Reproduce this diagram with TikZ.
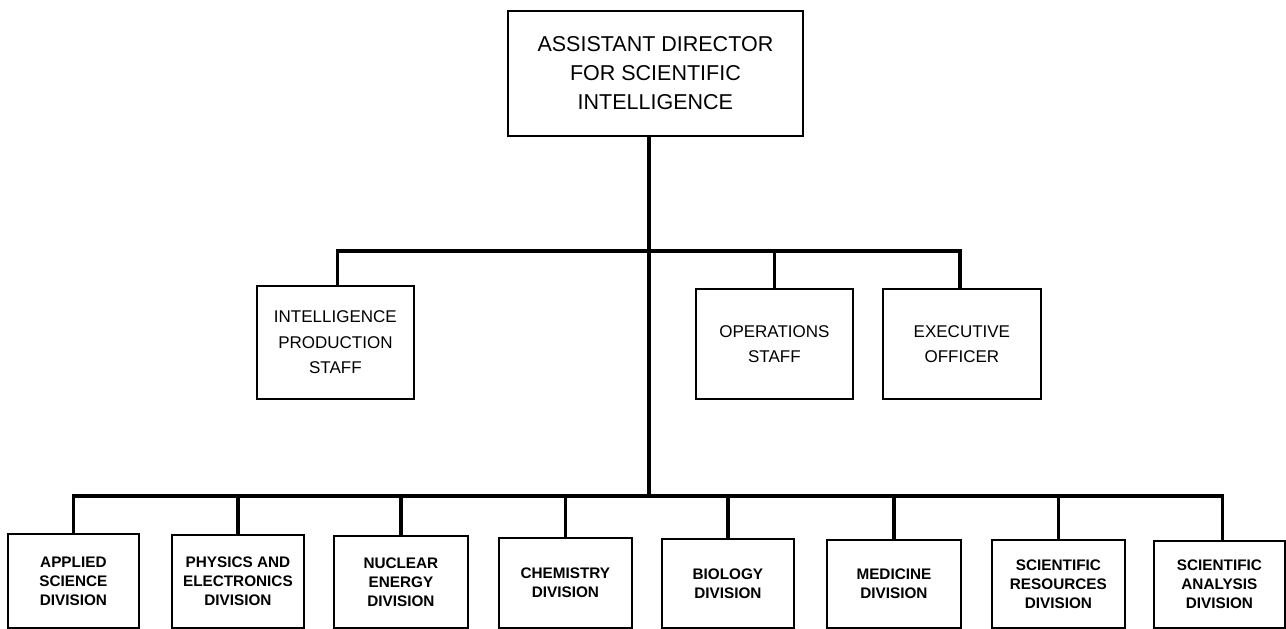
\documentclass[tikz,border=0pt]{standalone}
\usepackage{fontspec}
\setmainfont{Liberation Sans}
\begin{document}
\begin{tikzpicture}[x=1pt,y=-1pt,
  box/.style={draw=black,line width=1.8pt,fill=white,inner sep=0pt,align=center,anchor=north west},
  topbox/.style={box,font=\fontsize{21.5}{29}\selectfont},
  midbox/.style={box,font=\fontsize{17}{25.5}\selectfont},
  divbox/.style={box,font=\bfseries\fontsize{15.3}{19}\selectfont},
  link/.style={line width=3.6pt,line cap=butt}]
\useasboundingbox (0,0) rectangle (1286,629);
% top
\node[topbox,minimum width=295pt,minimum height=125pt] (top) at (507,10)
  {ASSISTANT DIRECTOR\\FOR SCIENTIFIC\\INTELLIGENCE};
% staff row
\node[midbox,minimum width=157pt,minimum height=113pt] (ips) at (256,285)
  {INTELLIGENCE\\PRODUCTION\\STAFF};
\node[midbox,minimum width=157pt,minimum height=110pt] (ops) at (695,288)
  {OPERATIONS\\STAFF};
\node[midbox,minimum width=158pt,minimum height=110pt] (exe) at (882,288)
  {EXECUTIVE\\OFFICER};
% division row
\node[divbox,minimum width=131pt,minimum height=94pt] (d1) at (7,533) {APPLIED\\SCIENCE\\DIVISION};
\node[divbox,minimum width=132pt,minimum height=93pt] (d2) at (171,534) {PHYSICS AND\\ELECTRONICS\\DIVISION};
\node[divbox,minimum width=134pt,minimum height=92pt] (d3) at (333,535) {NUCLEAR\\ENERGY\\DIVISION};
\node[divbox,minimum width=133pt,minimum height=90pt] (d4) at (498,537) {CHEMISTRY\\DIVISION};
\node[divbox,minimum width=132pt,minimum height=89pt] (d5) at (661,538) {BIOLOGY\\DIVISION};
\node[divbox,minimum width=134pt,minimum height=88pt] (d6) at (826,539) {MEDICINE\\DIVISION};
\node[divbox,minimum width=133pt,minimum height=88pt] (d7) at (991,539) {SCIENTIFIC\\RESOURCES\\DIVISION};
\node[divbox,minimum width=131pt,minimum height=87pt] (d8) at (1153,540) {SCIENTIFIC\\ANALYSIS\\DIVISION};
% connectors
\coordinate (spine) at ([xshift=-6.5pt]top.south);
\coordinate (midbar) at (648,251);
\coordinate (lowbar) at (648,496);
\draw[link] (spine) -- (spine |- lowbar);
\draw[link] ([xshift=2pt]ips.north) -- ([xshift=2pt]ips.north |- midbar) -- ([xshift=-2pt]exe.north |- midbar) -- ([xshift=-2pt]exe.north);
\draw[link] (ops.north) -- (ops.north |- midbar);
\draw[link] (d1.north) -- (d1.north |- lowbar) -- ([xshift=3pt]d8.north |- lowbar) -- ([xshift=3pt]d8.north);
\foreach \n in {d2,d3,d4,d5,d6,d7}{
  \draw[link] (\n.north) -- (\n.north |- lowbar);
}
\end{tikzpicture}
\end{document}
